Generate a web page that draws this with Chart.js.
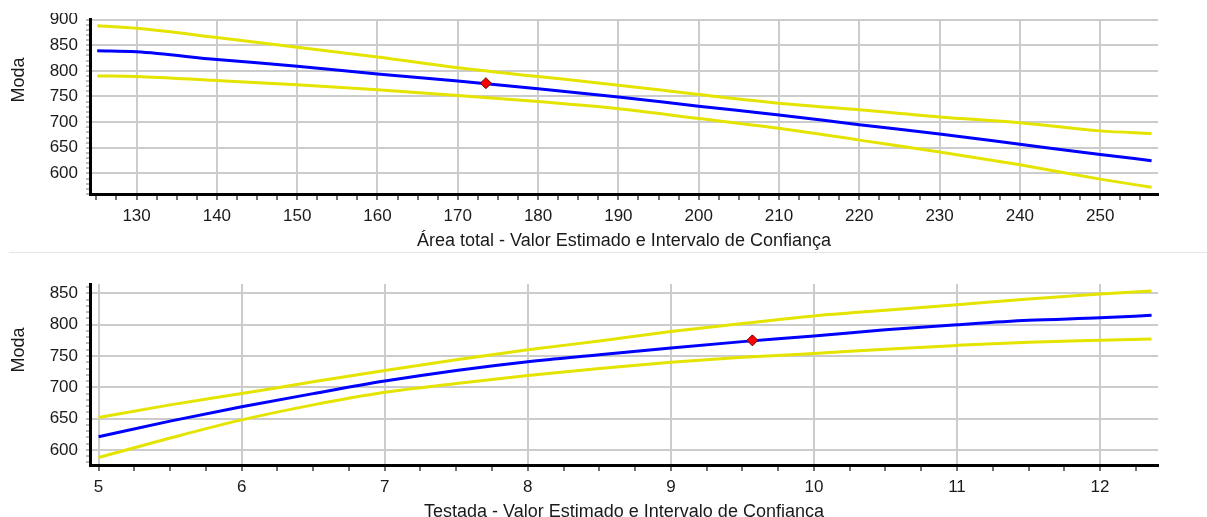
<!DOCTYPE html>
<html>
<head>
<meta charset="utf-8">
<script src="https://cdn.jsdelivr.net/npm/chart.js@4.4.0/dist/chart.umd.min.js"></script>
<style>
  html, body { margin: 0; padding: 0; overflow: hidden; background: #fff; }
  body { position: relative; width: 1207px; height: 517px; font-family: "Liberation Sans", Arial, sans-serif; }
  .box { position: absolute; left: 0; width: 1207px; }
  #topBox { top: 13px; height: 239px; }
  #botBox { top: 270px; height: 255px; }
  .sep { position: absolute; left: 9px; right: 0; top: 252px; border-top: 1px solid #e6e6e6; }
  .ytitle { position: absolute; left: 18px; font-size: 18px; color: #1a1a1a; white-space: nowrap;
            transform: translate(-50%, -50%) rotate(-90deg); }
</style>
<script>
// Área total (top chart)
var areaX     = [125.1, 130, 140, 150, 160, 170, 180, 190, 200, 210, 220, 230, 240, 250, 256.4];
var areaUpper = [888, 883, 865, 846, 827, 806, 789, 772, 754, 737, 724, 710, 699, 683, 678];
var areaEst   = [839, 837, 822, 809, 794, 780, 765, 749, 731, 714, 695, 677, 657, 637, 625];
var areaLower = [790, 789, 781, 773, 763, 752, 740, 726, 707, 688, 665, 642, 617, 589, 573];
var areaPoint = [173.5, 776];

// Testada (bottom chart)
var testX     = [5, 5.5, 6, 6.5, 7, 7.5, 8, 8.5, 9, 9.5, 10, 10.5, 11, 11.5, 12, 12.36];
var testUpper = [652, 672, 690, 709, 727, 744, 760, 774, 789, 802, 814, 823, 832, 841, 849, 854];
var testEst   = [621, 646, 669, 690, 710, 727, 741, 752, 763, 773, 782, 792, 800, 807, 811, 815];
var testLower = [588, 619, 648, 672, 692, 706, 719, 730, 740, 748, 754, 761, 767, 772, 775, 777];
var testPoint = [9.57, 775];

var BLUE = '#0000ff', YELLOW = 'rgb(228,228,0)', GRID = '#cccccc', NONE = 'rgba(0,0,0,0)';

function points(xs, ys) {
  return xs.map(function (x, i) { return {x: x, y: ys[i]}; });
}
function isMult(v, step) {
  var r = v / step;
  return Math.abs(r - Math.round(r)) < 1e-6;
}
// ticks every `step` inside the axis range (minor ticks); labels/grid only on majors
function stepTicks(step) {
  return function (scale) {
    var ticks = [];
    var v = Math.ceil(scale.min / step - 1e-9) * step;
    for (; v <= scale.max + 1e-9; v += step) ticks.push({value: Math.round(v * 1000) / 1000});
    scale.ticks = ticks;
  };
}
function lineSet(xs, ys, color) {
  return {data: points(xs, ys), borderColor: color, borderWidth: 3, pointRadius: 0,
          cubicInterpolationMode: 'monotone', fill: false};
}

function makeChart(id, c) {
  var ctx = document.getElementById(id).getContext('2d');
  return new Chart(ctx, {
    type: 'line',
    data: {
      datasets: [
        {data: [{x: c.point[0], y: c.point[1]}], showLine: false, pointStyle: 'rectRot',
         pointRadius: 5.5, pointBackgroundColor: '#ff0000', pointBorderColor: '#600000',
         pointBorderWidth: 1},
        lineSet(c.xs, c.est, BLUE),
        lineSet(c.xs, c.upper, YELLOW),
        lineSet(c.xs, c.lower, YELLOW)
      ]
    },
    options: {
      responsive: true,
      maintainAspectRatio: false,
      animation: false,
      events: [],
      layout: {padding: {top: c.padTop, right: 49, left: 0, bottom: 0}},
      plugins: {legend: {display: false}, tooltip: {enabled: false}},
      scales: {
        x: {
          type: 'linear', min: c.xMin, max: c.xMax,
          afterBuildTicks: stepTicks(c.xMinor),
          afterFit: function (s) { s.height = c.xHeight; s.paddingLeft = 0; s.paddingRight = 0; },
          border: {color: '#000', width: 3},
          grid: {
            lineWidth: 2, tickLength: 6, tickWidth: 1.5, tickColor: '#444',
            color: function (t) { return t.tick && isMult(t.tick.value, c.xMajor) ? GRID : NONE; }
          },
          ticks: {
            autoSkip: false, maxRotation: 0, padding: 6, color: '#1a1a1a', font: {size: 17},
            callback: function (v) { return isMult(v, c.xMajor) ? String(Math.round(v)) : ''; }
          },
          title: {display: true, text: c.title, color: '#1a1a1a', font: {size: 18},
                  padding: {top: 0, bottom: c.titlePad}}
        },
        y: {
          min: c.yMin, max: c.yMax,
          afterBuildTicks: stepTicks(10),
          afterFit: function (s) { s.width = 90; s.paddingTop = 0; s.paddingBottom = 0; },
          border: {color: '#000', width: 3},
          grid: {
            lineWidth: 2, tickLength: 4, tickWidth: 1, tickColor: '#777',
            color: function (t) { return t.tick && isMult(t.tick.value, 50) ? GRID : NONE; }
          },
          ticks: {
            autoSkip: false, padding: 8, color: '#1a1a1a', font: {size: 17},
            callback: function (v) { return isMult(v, 50) ? String(Math.round(v)) : ''; }
          }
        }
      }
    }
  });
}

window.addEventListener('load', function () {
  Chart.defaults.font.family = '"Liberation Sans", Arial, sans-serif';
  makeChart('topChart', {
    xs: areaX, upper: areaUpper, est: areaEst, lower: areaLower, point: areaPoint,
    xMin: 124.2, xMax: 257.2, xMinor: 2.5, xMajor: 10, yMin: 560, yMax: 900,
    padTop: 2, xHeight: 58, titlePad: 0,
    title: 'Área total - Valor Estimado e Intervalo de Confiança'
  });
  makeChart('botChart', {
    xs: testX, upper: testUpper, est: testEst, lower: testLower, point: testPoint,
    xMin: 4.94, xMax: 12.405, xMinor: 0.25, xMajor: 1, yMin: 576, yMax: 865,
    padTop: 14, xHeight: 60, titlePad: 2,
    title: 'Testada - Valor Estimado e Intervalo de Confiança'
  });
});
</script>
</head>
<body>
  <div class="box" id="topBox"><canvas id="topChart"></canvas></div>
  <div class="sep"></div>
  <div class="box" id="botBox"><canvas id="botChart"></canvas></div>
  <div class="ytitle" style="top:80px">Moda</div>
  <div class="ytitle" style="top:350px">Moda</div>
</body>
</html>
